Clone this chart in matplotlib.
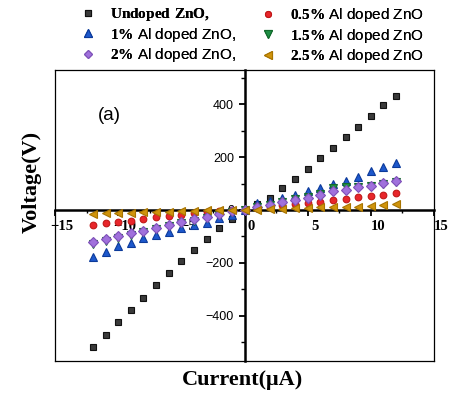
import matplotlib
matplotlib.use("Agg")
import matplotlib.pyplot as plt
from matplotlib.transforms import ScaledTranslation
import numpy as np

plt.rcParams["mathtext.fontset"] = "custom"
plt.rcParams["mathtext.rm"] = "Liberation Serif"
plt.rcParams["mathtext.bf"] = "Liberation Serif:bold"

# Current (µA) sample points
current = [-12, -11, -10, -9, -8, -7, -6, -5, -4, -3, -2, -1, 0,
           1, 2, 3, 4, 5, 6, 7, 8, 9, 10, 11, 12]

# Voltage (V) for each film
v_undoped = [-518, -472, -425, -379, -332, -285, -240, -193, -152, -110, -68, -35, 0,
             22, 44, 82, 117, 156, 196, 236, 275, 314, 355, 397, 433]
v_al05 = [-57, -51, -44, -40, -35, -28, -23, -18, -13, -8, -4, -2, 0,
          6, 13, 18, 22, 25, 32, 38, 42, 48, 51, 57, 63]
v_al1 = [-179, -158, -136, -124, -107, -95, -82, -69, -57, -48, -32, -19, 0,
         25, 35, 47, 56, 71, 85, 100, 110, 126, 147, 164, 177]
v_al15 = [-128, -118, -106, -95, -84, -72, -62, -50, -40, -30, -18, -7, 0,
          10, 20, 30, 40, 50, 62, 84, 86, 88, 92, 98, 106]
v_al2 = [-120, -110, -99, -88, -78, -67, -57, -45, -35, -26, -14, -5, 0,
         13, 19, 29, 38, 47, 57, 71, 76, 87, 91, 101, 111]
v_al25 = [-15, -13, -11, -10, -8, -7, -6, -4, -3, -2, -1, 0, 0,
          1, 3, 5, 7, 8, 10, 10, 13, 13, 15, 18, 22]

labels = [r"$\mathbf{Undoped\ ZnO,}$",
          r"$\mathbf{0.5\%}$ Al doped ZnO",
          r"$\mathbf{1\%}$ Al doped ZnO,",
          r"$\mathbf{1.5\%}$ Al doped ZnO",
          r"$\mathbf{2\%}$ Al doped ZnO,",
          r"$\mathbf{2.5\%}$ Al doped ZnO"]

styles = [
    dict(marker="s", ms=4.3, mfc="#3a3a3a", mec="#111111"),
    dict(marker="o", ms=4.8, mfc="#e8262b", mec="#c01818"),
    dict(marker="^", ms=5.8, mfc="#1d58cc", mec="#0c3a9a"),
    dict(marker="v", ms=5.8, mfc="#1f8f45", mec="#116a2c"),
    dict(marker="D", ms=4.6, mfc="#a071dc", mec="#7d50b8"),
    dict(marker="<", ms=5.8, mfc="#d0940c", mec="#a87400"),
]
series = [v_undoped, v_al05, v_al1, v_al15, v_al2, v_al25]

W, H = 457, 396
fig = plt.figure(figsize=(W / 100, H / 100), dpi=100)
ax = fig.add_axes([55 / W, 1 - 361 / H, (434 - 55) / W, (361 - 70) / H])

handles = []
for vals, st, lab in zip(series, styles, labels):
    h, = ax.plot(current, vals, linestyle="none", mew=0.8, label=lab,
                 zorder=3, clip_on=False, **st)
    handles.append(h)

ax.set_xlim(-15, 15)
ax.set_ylim(-572, 530)

# axes crossing at the origin, thin frame around the plot
ax.spines["left"].set_position(("data", 0))
ax.spines["bottom"].set_position(("data", 0))
ax.spines["left"].set_linewidth(1.8)
ax.spines["bottom"].set_linewidth(1.8)
ax.spines["top"].set_linewidth(0.9)
ax.spines["right"].set_linewidth(0.9)
ax.plot([0, 0], [0, 1], transform=ax.transAxes, color="black", lw=0.9, clip_on=False)
ax.plot([0, 1], [0, 0], transform=ax.transAxes, color="black", lw=0.9, clip_on=False)

ax.set_xticks([-15, -10, -5, 0, 5, 10, 15])
ax.set_xticks(np.arange(-12.5, 15, 5), minor=True)
ax.set_yticks([-400, -200, 0, 200, 400])
ax.set_yticks([-500, -300, -100, 100, 300, 500], minor=True)

ax.tick_params(axis="x", which="major", direction="out", length=4, width=1.3, pad=3)
ax.tick_params(axis="x", which="minor", direction="out", length=2.5, width=1.0)
ax.tick_params(axis="y", which="major", direction="out", length=4.5, width=1.3,
               pad=3, labelsize=9)
ax.tick_params(axis="y", which="minor", direction="out", length=3, width=1.0)

for t in ax.get_xticklabels():
    t.set_fontfamily("Liberation Serif")
    t.set_fontweight("bold")
    t.set_fontsize(10.5)
    t.set_transform(t.get_transform() + ScaledTranslation(7 / 100, 0, fig.dpi_scale_trans))
for t in ax.get_yticklabels():
    t.set_fontfamily("Liberation Sans")

fig.text(243 / W, 1 - 380 / H, "Current(\u03bcA)", ha="center", va="center",
         family="Liberation Serif", weight="bold", fontsize=16)
fig.text(32 / W, 1 - 182 / H, "Voltage(V)", ha="center", va="center",
         rotation=90, family="Liberation Serif", weight="bold", fontsize=16)
fig.text(109 / W, 1 - 116 / H, "(a)", ha="center", va="center",
         family="Liberation Sans", fontsize=13.5)

# two legend columns placed side by side above the plot
leg_kw = dict(ncol=1, loc="upper left", frameon=False,
              prop=dict(family="Liberation Sans", size=11),
              handlelength=1.15, handletextpad=0.85, labelspacing=0.17,
              borderaxespad=0, borderpad=0, markerscale=0.9)
for cols, x0 in (([0, 2, 4], 79), ([1, 3, 5], 259)):
    leg = fig.legend([handles[i] for i in cols], [labels[i] for i in cols],
                     bbox_to_anchor=(x0 / W, 1 - 6 / H), **leg_kw)
    fig.add_artist(leg)

fig.savefig("out.png", dpi=100)
